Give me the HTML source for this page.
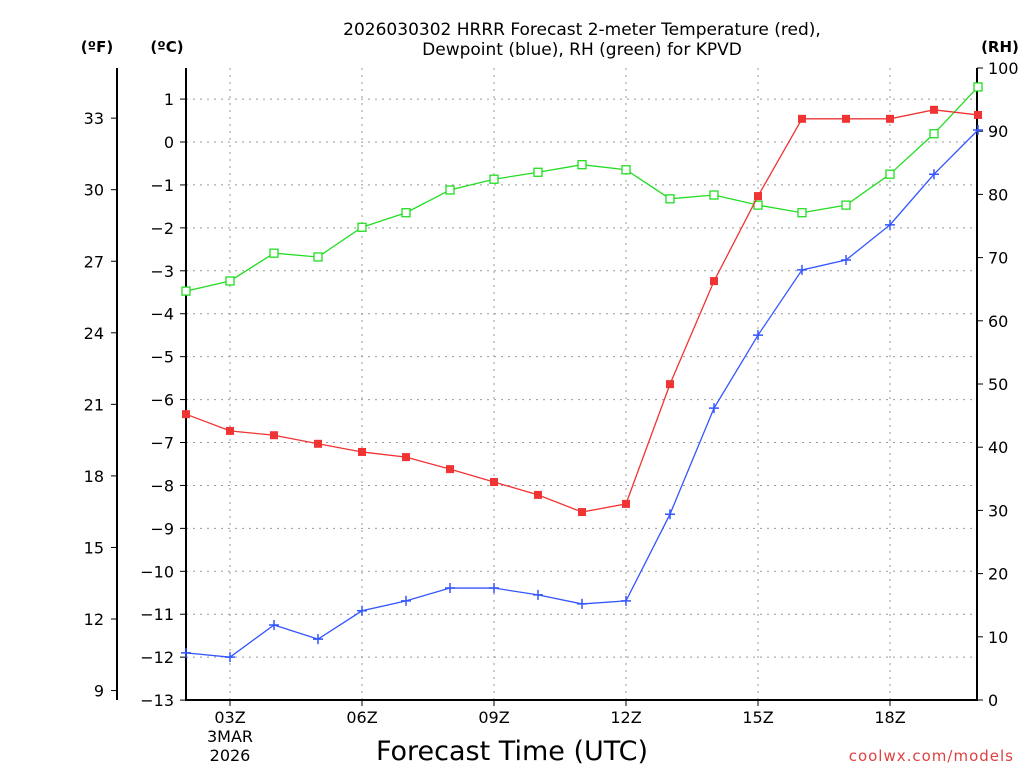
<!DOCTYPE html>
<html><head><meta charset="utf-8"><style>
body{margin:0;background:#fff;width:1024px;height:768px;overflow:hidden}
svg text{font-family:"DejaVu Sans","Liberation Sans",sans-serif;fill:#000}
</style></head><body>
<svg id="chart" width="1024" height="768" xmlns="http://www.w3.org/2000/svg"></svg>
<script>
const hours=[2,3,4,5,6,7,8,9,10,11,12,13,14,15,16,17,18,19,20];
const tempC=[-6.34,-6.73,-6.83,-7.03,-7.22,-7.34,-7.62,-7.92,-8.22,-8.62,-8.43,-5.64,-3.24,-1.26,0.54,0.54,0.54,0.75,0.63];
const dewC=[-11.9,-12.0,-11.25,-11.58,-10.92,-10.69,-10.39,-10.39,-10.55,-10.76,-10.69,-8.67,-6.2,-4.5,-2.98,-2.75,-1.93,-0.75,0.28];
const rh=[64.7,66.3,70.7,70.1,74.8,77.1,80.7,82.4,83.5,84.7,83.9,79.3,79.9,78.3,77.1,78.3,83.2,89.6,97];
const cTicks=[1,0,-1,-2,-3,-4,-5,-6,-7,-8,-9,-10,-11,-12,-13];
const fTicks=[33,30,27,24,21,18,15,12,9];
const rhTicks=[0,10,20,30,40,50,60,70,80,90,100];
const xTicks=[3,6,9,12,15,18];
const X0=186,X1=977,Y0=68,Y1=700;
const xs=h=>X0+(h-2)*44;
const yc=c=>142-c*42.93;
const yr=r=>Y1-r*6.32;
const yf=f=>yc((f-32)*5/9);
const svg=document.getElementById('chart');
const NS='http://www.w3.org/2000/svg';
function el(t,a,txt){const e=document.createElementNS(NS,t);for(const k in a)e.setAttribute(k,a[k]);if(txt!==undefined)e.textContent=txt;svg.appendChild(e);return e;}
const fmt=v=>String(v).replace('-','\u2212');
cTicks.forEach(c=>{const g=el('line',{x1:X0,x2:X1,y1:yc(c),y2:yc(c),stroke:'#999','stroke-dasharray':'2,5'});

});
xTicks.forEach(h=>{const g=el('line',{x1:xs(h),x2:xs(h),y1:Y0,y2:Y1,stroke:'#999','stroke-dasharray':'2,5'});

});
const ax=el('path',{d:`M${X0},${Y0} V${Y1} H${X1} V${Y0}`,stroke:'#000','stroke-width':2,fill:'none'});


el('line',{x1:117,x2:117,y1:68,y2:700,stroke:'#000','stroke-width':2});
cTicks.forEach(c=>{el('line',{x1:X0-6,x2:X0,y1:yc(c),y2:yc(c),stroke:'#000'});
const t=el('text',{x:X0-12,y:yc(c)+6,'text-anchor':'end','font-size':16},fmt(c));

});
fTicks.forEach(f=>{el('line',{x1:111,x2:117,y1:yf(f),y2:yf(f),stroke:'#000'});
const t=el('text',{x:104,y:yf(f)+6,'text-anchor':'end','font-size':16},f);

});
rhTicks.forEach(r=>{el('line',{x1:X1,x2:X1+6,y1:yr(r),y2:yr(r),stroke:'#000'});
const t=el('text',{x:988,y:yr(r)+6,'font-size':16},r);

});
xTicks.forEach(h=>{el('line',{x1:xs(h),x2:xs(h),y1:Y1,y2:Y1+6,stroke:'#000'});
const t=el('text',{x:xs(h),y:723,'text-anchor':'middle','font-size':16},String(h).padStart(2,'0')+'Z');

});
function series(vals,yfn,color,name,marker){
const pts=vals.map((v,i)=>[xs(hours[i]),yfn(v)]);
const l=el('polyline',{points:pts.map(p=>p.join(',')).join(' '),fill:'none',stroke:color,'stroke-width':1.3});


pts.forEach(([x,y])=>{let m;
if(marker==='fill')m=el('rect',{x:x-4,y:y-4,width:8,height:8,fill:color});
else if(marker==='open')m=el('rect',{x:x-4,y:y-4,width:8,height:8,fill:'#fff',stroke:color,'stroke-width':1.3});
else m=el('path',{d:`M${x-5},${y}H${x+5}M${x},${y-5}V${y+5}`,stroke:color,'stroke-width':1.5});

});}
series(rh,yr,'#22dd22','rh','open');
series(tempC,yc,'#f03333','temperature','fill');
series(dewC,yc,'#3355ff','dewpoint','plus');
function txt(a,s,n){const t=el('text',a,s);}
txt({x:582,y:35,'text-anchor':'middle','font-size':17},'2026030302 HRRR Forecast 2-meter Temperature (red),','chart-title-line1');
txt({x:582,y:55,'text-anchor':'middle','font-size':17},'Dewpoint (blue), RH (green) for KPVD','chart-title-line2');
txt({x:97,y:52,'text-anchor':'middle','font-size':15,'font-weight':'bold'},'(ºF)','fahrenheit-axis-title');
txt({x:167,y:52,'text-anchor':'middle','font-size':15,'font-weight':'bold'},'(ºC)','celsius-axis-title');
txt({x:1000,y:52,'text-anchor':'middle','font-size':15,'font-weight':'bold'},'(RH)','rh-axis-title');
txt({x:230,y:742,'text-anchor':'middle','font-size':16},'3MAR','date-label-month');
txt({x:230,y:761,'text-anchor':'middle','font-size':16},'2026','date-label-year');
txt({x:512,y:760,'text-anchor':'middle','font-size':27},'Forecast Time (UTC)','x-axis-title');
txt({x:1014,y:761,'text-anchor':'end','font-size':15,style:'fill:#e04040;letter-spacing:1px'},'coolwx.com/models','watermark');
</script>
</body></html>
